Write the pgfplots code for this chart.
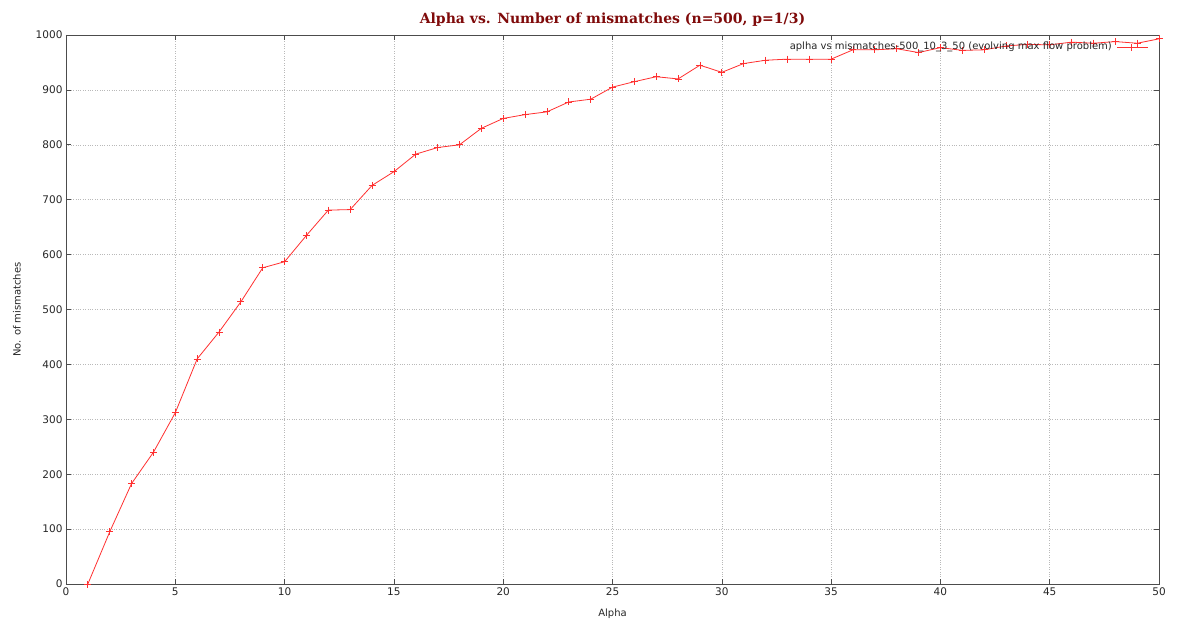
\documentclass[border=0pt]{standalone}
\usepackage{pgfplots}
\pgfplotsset{compat=1.18}
\usepackage{fontspec}
\setmainfont{DejaVu Sans}
\newfontfamily\titlefont{DejaVu Serif}
\usetikzlibrary{calc}
\definecolor{titlered}{HTML}{7F0A0A}
\definecolor{linered}{HTML}{FF3030}
\begin{document}
\begin{tikzpicture}
\begin{axis}[
  scale only axis,
  width=1093pt, height=549pt,
  xmin=0, xmax=50, ymin=0, ymax=1000,
  xtick={0,5,...,50}, ytick={0,100,...,1000},
  tick pos=both, tick align=inside,
  major tick length=5pt,
  grid=major,
  major grid style={dotted, gray!55, line width=0.5pt},
  axis line style={black!70, line width=0.8pt},
  tick style={black!70, line width=0.6pt},
  /pgf/number format/assume math mode=true,
  /pgf/number format/1000 sep={},
  ticklabel style={font=\fontsize{10.5}{12}\selectfont, text=black!85},
  xlabel={Alpha}, ylabel={No. of mismatches},
  label style={font=\fontsize{10}{12}\selectfont, text=black!85},
  xlabel style={yshift=-7pt},
  ylabel style={yshift=8pt},
  title={\titlefont\bfseries Alpha vs. Number of mismatches (n=500, p=1/3)},
  title style={font=\fontsize{14}{16}\selectfont, text=titlered, yshift=-1pt},
]
\addplot[color=linered, line width=0.8pt, mark=+, mark size=3.5pt, mark options={line width=0.8pt}] coordinates {
(1,0) (2,95) (3,183) (4,240) (5,312) (6,410) (7,459) (8,514) (9,576) (10,587)
(11,635) (12,681) (13,682) (14,726) (15,751) (16,783) (17,795) (18,800) (19,830) (20,848)
(21,855) (22,860) (23,878) (24,883) (25,905) (26,915) (27,924) (28,920) (29,945) (30,932)
(31,948) (32,954) (33,956) (34,956) (35,956) (36,973) (37,973) (38,975) (39,968) (40,977)
(41,972) (42,973) (43,980) (44,983) (45,982) (46,987) (47,985) (48,988) (49,985) (50,993)
};
\coordinate (LA) at (rel axis cs:0.9616,0.978);
\coordinate (LB) at (rel axis cs:0.990,0.978);
\coordinate (LM) at (rel axis cs:0.975,0.978);
\coordinate (LT) at (rel axis cs:0.957,0.978);
\end{axis}
\node[anchor=east, inner sep=0pt, font=\fontsize{10}{12}\selectfont, text=black!85] at (LT) {aplha vs mismatches-500\_10\_3\_50 (evolving max flow problem)};
\fill[fill=linered] ($(LA)+(0,-0.4pt)$) rectangle ($(LB)+(0,0.4pt)$);
\fill[fill=linered] ($(LM)+(-0.4pt,-3.5pt)$) rectangle ($(LM)+(0.4pt,3.5pt)$);
\useasboundingbox ($(current axis.south west)+(-66pt,-40pt)$) rectangle ($(current axis.north east)+(18pt,35pt)$);
\end{tikzpicture}
\end{document}
